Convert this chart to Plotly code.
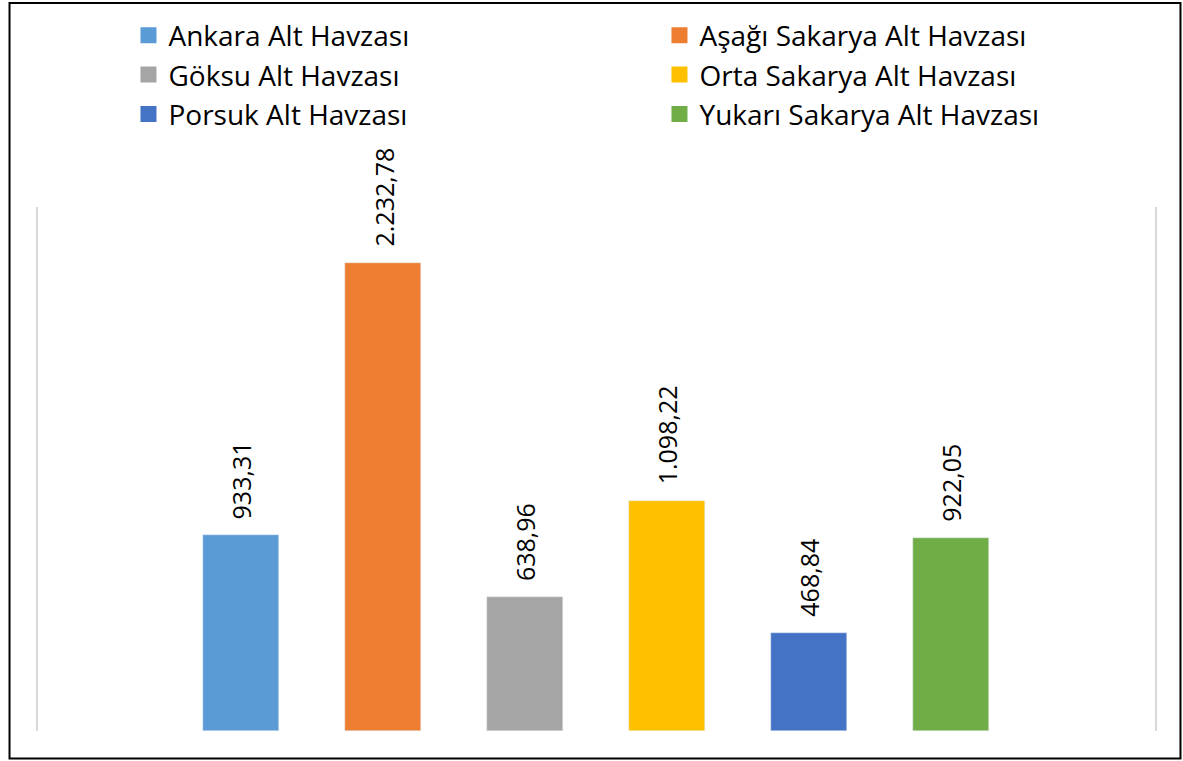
import plotly.graph_objects as go

categories = ["Ankara Alt Havzası", "Aşağı Sakarya Alt Havzası", "Göksu Alt Havzası",
              "Orta Sakarya Alt Havzası", "Porsuk Alt Havzası", "Yukarı Sakarya Alt Havzası"]
values = [933.31, 2232.78, 638.96, 1098.22, 468.84, 922.05]
labels = ["933,31", "2.232,78", "638,96", "1.098,22", "468,84", "922,05"]
colors = ["#5B9BD5", "#ED7D31", "#A5A5A5", "#FFC000", "#4472C4", "#70AD47"]

FONT = "Open Sans"

fig = go.Figure()
for i, (c, v, col) in enumerate(zip(categories, values, colors)):
    fig.add_trace(go.Bar(x=[i], y=[v], marker_color=col, width=0.53,
                         showlegend=False, hoverinfo="skip"))
for c, col in zip(categories, colors):
    fig.add_trace(go.Scatter(x=[None], y=[None], mode="markers", name=c,
                             marker=dict(symbol="square", size=16, color=col)))

for i, (v, t) in enumerate(zip(values, labels)):
    fig.add_annotation(x=i, y=v, text=t, textangle=-90, showarrow=False,
                       yanchor="bottom", yshift=14,
                       font=dict(family=FONT, size=25, color="#000000"))

fig.add_shape(type="rect", xref="paper", yref="paper",
              x0=-0.0255, x1=1.0228, y0=-0.0525, y1=1.3895,
              line=dict(color="#000000", width=2), layer="above")

fig.update_layout(
    width=1183, height=761,
    margin=dict(l=38, r=28, t=207, b=30, autoexpand=False),
    plot_bgcolor="white", paper_bgcolor="white",
    font=dict(family=FONT, size=25, color="#000000"),
    xaxis=dict(range=[-1.43, 6.437], showticklabels=False, showgrid=False,
               zeroline=False, showline=False, ticks=""),
    yaxis=dict(range=[0, 2500], showticklabels=False, showgrid=False,
               zeroline=False, showline=True, mirror=True,
               linecolor="#D9D9D9", linewidth=2, ticks=""),
    legend=dict(orientation="h", x=0.081, xanchor="left", y=1.375, yanchor="top",
                entrywidth=486, entrywidthmode="pixels",
                font=dict(family=FONT, size=28, color="#000000"),
                bgcolor="rgba(0,0,0,0)"),
    bargap=0,
)

fig.write_html("out.html", post_script="document.body.style.margin='0';",
               config={"displayModeBar": False})
